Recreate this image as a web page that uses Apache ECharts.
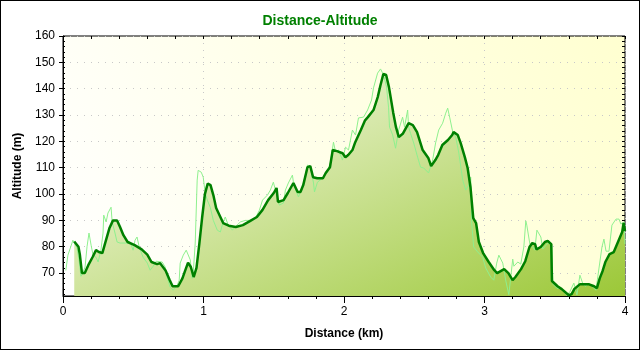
<!DOCTYPE html>
<html>
<head>
<meta charset="utf-8">
<title>Distance-Altitude</title>
<script src="https://cdn.jsdelivr.net/npm/echarts@6.0.0/dist/echarts.min.js"></script>
<style>
  body { margin: 0; background: #fff; }
  #main { position: absolute; left: 0; top: 0; width: 640px; height: 350px; }
  #frame { position: absolute; left: 0; top: 0; width: 640px; height: 350px;
           box-sizing: border-box; border: 1px solid #000; pointer-events: none; }
</style>
</head>
<body>
<div id="main"></div>
<div id="frame"></div>
<script>
// smoothed profile (dark line + filled area)
var smoothDist = [0.08, 0.11, 0.12, 0.135, 0.155, 0.18, 0.21, 0.235, 0.255, 0.28, 0.30, 0.33, 0.356, 0.385, 0.406, 0.43, 0.46, 0.51, 0.56, 0.60,
  0.63, 0.67, 0.69, 0.73, 0.76, 0.78, 0.82, 0.85, 0.87, 0.89, 0.91, 0.93, 0.95, 0.97, 0.99, 1.01, 1.03, 1.05, 1.07, 1.09,
  1.12, 1.14, 1.18, 1.23, 1.28, 1.33, 1.38, 1.42, 1.46, 1.50, 1.52, 1.53, 1.57, 1.60, 1.64, 1.67, 1.69, 1.71, 1.74, 1.76,
  1.78, 1.81, 1.85, 1.87, 1.90, 1.92, 1.95, 1.99, 2.01, 2.03, 2.06, 2.08, 2.12, 2.15, 2.17, 2.21, 2.24, 2.26, 2.28, 2.30,
  2.32, 2.35, 2.37, 2.39, 2.42, 2.46, 2.49, 2.52, 2.56, 2.60, 2.62, 2.65, 2.67, 2.70, 2.74, 2.77, 2.78, 2.81, 2.83, 2.86,
  2.88, 2.90, 2.92, 2.94, 2.96, 2.99, 3.03, 3.07, 3.09, 3.14, 3.17, 3.20, 3.22, 3.26, 3.29, 3.32, 3.34, 3.36, 3.37, 3.40,
  3.43, 3.45, 3.475, 3.48, 3.52, 3.55, 3.60, 3.62, 3.64, 3.68, 3.74, 3.78, 3.80, 3.82, 3.84, 3.86, 3.89, 3.92, 3.95, 3.98,
  3.99, 4.0];
var smoothAlt = [82, 80, 77, 70, 70, 73, 76, 78.7, 78, 77.6, 81.4, 87, 90, 90, 87.5, 84.4, 81.8, 80.6, 79, 77,
  74.2, 73.4, 73.8, 71, 67.3, 65, 65, 68, 71, 74, 72.3, 68.5, 72, 81, 91, 100, 104, 103.4, 99.6, 94.7,
  91.3, 89, 88, 87.5, 88.2, 89.7, 91.3, 94, 97.7, 100.4, 102.3, 97, 97.7, 100.4, 104.2, 100.8, 100.8, 103.4, 110.2, 110.6,
  106.4, 106, 106, 108, 110.2, 116.7, 116.3, 115.5, 114, 114.8, 116.7, 119.7, 124.3, 128, 129.2, 131.9, 136.8, 141.4, 145.6, 145.2,
  140.6, 131, 125.4, 121.6, 123, 126.9, 126.2, 123.5, 116.7, 113.7, 110.6, 112.9, 114.8, 118.6, 120.5, 122.4, 123.5, 122.4, 119.4, 114,
  109.9, 102.7, 90.9, 89, 81.8, 77.6, 74.2, 71.1, 70, 71.5, 70, 67.3, 68.5, 71.5, 74.5, 79.9, 81.4, 81, 79, 79.9,
  81.8, 82.2, 81, 67, 65, 63.9, 61.6, 62, 64, 65.8, 65.8, 65, 64.3, 68, 70.7, 74.2, 77.2, 78, 81.8, 85.6,
  89, 86];

// raw GPS profile (thin light line)
var rawDist = [0.02, 0.035, 0.064, 0.07, 0.10, 0.114, 0.128, 0.14, 0.157, 0.171, 0.185, 0.20, 0.214, 0.235, 0.25, 0.27, 0.285, 0.29, 0.307, 0.32,
  0.342, 0.35, 0.37, 0.385, 0.406, 0.456, 0.477, 0.499, 0.513, 0.527, 0.542, 0.57, 0.60, 0.62, 0.642, 0.663, 0.677, 0.706, 0.727, 0.741,
  0.762, 0.784, 0.813, 0.827, 0.834, 0.856, 0.877, 0.891, 0.906, 0.92, 0.927, 0.941, 0.955, 0.962, 0.984, 0.998, 1.012, 1.027, 1.048, 1.07,
  1.098, 1.12, 1.14, 1.155, 1.176, 1.205, 1.226, 1.262, 1.298, 1.333, 1.369, 1.398, 1.42, 1.455, 1.476, 1.497, 1.511, 1.526, 1.54, 1.569,
  1.583, 1.604, 1.633, 1.64, 1.661, 1.676, 1.704, 1.725, 1.74, 1.761, 1.783, 1.79, 1.811, 1.847, 1.882, 1.904, 1.925, 1.94, 1.961, 1.989,
  2.011, 2.032, 2.06, 2.082, 2.103, 2.139, 2.168, 2.196, 2.21, 2.239, 2.26, 2.282, 2.303, 2.317, 2.324, 2.346, 2.367, 2.389, 2.417, 2.431,
  2.453, 2.46, 2.474, 2.496, 2.524, 2.545, 2.567, 2.602, 2.631, 2.652, 2.674, 2.702, 2.724, 2.738, 2.752, 2.774, 2.795, 2.816, 2.845, 2.866,
  2.888, 2.902, 2.909, 2.923, 2.952, 2.987, 3.009, 3.044, 3.066, 3.087, 3.102, 3.13, 3.152, 3.173, 3.187, 3.201, 3.209, 3.237, 3.258, 3.28,
  3.294, 3.301, 3.323, 3.344, 3.358, 3.373, 3.387, 3.401, 3.415, 3.444, 3.465, 3.479, 3.487, 3.515, 3.551, 3.586, 3.608, 3.636, 3.658, 3.679,
  3.701, 3.722, 3.743, 3.765, 3.793, 3.815, 3.836, 3.85, 3.865, 3.886, 3.907, 3.936, 3.957, 3.971, 3.993, 4.0];
var rawAlt = [71, 76.8, 81.4, 82.5, 79.5, 75, 68.8, 70, 72.3, 80, 85.2, 80.6, 76.8, 76, 74.2, 78.7, 85.2, 92, 89.4, 92.8,
  95, 89.4, 85.2, 81.8, 81.4, 81.4, 81.8, 78.7, 82.5, 83.7, 80, 76, 73.8, 71.1, 72.6, 74.5, 73.8, 74.2, 72.3, 68.5,
  64.7, 63.5, 65.4, 67.3, 73.8, 76.8, 78.7, 78.7, 75, 68, 70, 81.4, 105.3, 109, 108.3, 106.4, 100.4, 97.7, 95, 90,
  86.3, 85.6, 89.4, 91.3, 88.2, 86.3, 87.5, 89.4, 90, 90, 90.8, 93.9, 97.7, 99.6, 101.5, 104.5, 104.2, 98.9, 95.8, 96.6,
  101.5, 104.2, 107.2, 104.5, 100.8, 98.9, 102.7, 107.2, 111, 110.2, 104.2, 100.8, 104.5, 106, 108.3, 112.1, 119.7, 116, 116.7, 112.9,
  117.8, 116.7, 124.3, 122.4, 128.9, 129.2, 131.9, 135.7, 140.3, 145.9, 147.5, 145.2, 140.6, 133, 125.4, 122.5, 117.4, 124.3, 129.2, 125.4,
  131.9, 125.4, 123, 119.4, 114, 110.2, 109.9, 108, 112.9, 119.4, 124.3, 126.9, 130.7, 132.6, 129.2, 123.5, 121.6, 116, 105.3, 101.5,
  103.4, 106.4, 89, 79.9, 78, 76, 71.9, 68.5, 67.3, 73.8, 76.8, 73.8, 67, 61.8, 62, 75.3, 72.6, 74.2, 73.4, 79.9,
  89.8, 88.2, 81, 79.9, 78.7, 86.3, 86.7, 83.7, 79.1, 81, 81.8, 81, 65.8, 64.3, 63.9, 61.5, 63, 66.2, 61.7, 69.2,
  65.8, 65, 66.2, 65, 63.5, 71.9, 79.9, 82.9, 78.3, 78.3, 88.2, 90.5, 90.5, 88.6, 89.4, 81];

var yLabels = [70, 80, 90, 100, 110, 120, 130, 140, 150, 160];
var yMinor = [];
for (var v = 62; v <= 160; v += 2) yMinor.push(v);

function pairs(xs, ys) {
  var out = [];
  for (var i = 0; i < xs.length; i++) out.push([xs[i], ys[i]]);
  return out;
}
var smoothData = pairs(smoothDist, smoothAlt);
var rawData = pairs(rawDist, rawAlt);

var chart = echarts.init(document.getElementById('main'));
var font = 'Liberation Sans, Arial, sans-serif';
var yMin = 61.3, yMax = 160;

var option = {
  animation: false,
  title: {
    text: 'Distance-Altitude',
    left: 'center', top: 9,
    textStyle: { color: '#008000', fontSize: 14, fontWeight: 'bold', fontFamily: font }
  },
  grid: {
    left: 63, top: 36, right: 15, bottom: 54,
    show: true, borderColor: '#000', borderWidth: 1,
    backgroundColor: new echarts.graphic.LinearGradient(0, 1, 1, 0, [
      { offset: 0, color: '#ffffff' },
      { offset: 1, color: '#ffffd0' }
    ])
  },
  xAxis: [{
    type: 'value', min: 0, max: 4, interval: 1,
    name: 'Distance (km)', nameLocation: 'middle', nameGap: 32,
    nameTextStyle: { color: '#000', fontSize: 12, fontWeight: 'bold', fontFamily: font },
    axisLine: { lineStyle: { color: '#000' } },
    axisTick: { length: 7, lineStyle: { color: '#000' } },
    minorTick: { show: true, splitNumber: 5, length: 3, lineStyle: { color: '#000' } },
    axisLabel: { color: '#000', fontSize: 12, fontFamily: font, margin: 10 },
    splitLine: { show: true, lineStyle: { color: '#c8c8c8', type: [1, 6] } }
  }, {
    type: 'value', position: 'top', min: 0, max: 4, interval: 0.2,
    axisLine: { show: false },
    axisTick: { inside: true, length: 3, lineStyle: { color: '#000' } },
    axisLabel: { show: false },
    splitLine: { show: false }
  }],
  yAxis: [{
    type: 'value', min: yMin, max: yMax,
    name: 'Altitude (m)', nameLocation: 'middle', nameGap: 39,
    nameTextStyle: { color: '#000', fontSize: 12, fontWeight: 'bold', fontFamily: font },
    axisLine: { show: true, lineStyle: { color: '#000' } },
    axisTick: { show: true, length: 4, customValues: yLabels, lineStyle: { color: '#000' } },
    axisLabel: { color: '#000', fontSize: 12, fontFamily: font, margin: 8, customValues: yLabels },
    splitLine: { show: true, lineStyle: { color: '#c8c8c8', type: [1, 6] } }
  }, {
    type: 'value', min: yMin, max: yMax, position: 'left',
    axisLine: { show: false },
    axisTick: { show: true, inside: true, length: 2, customValues: yMinor, lineStyle: { color: '#000' } },
    axisLabel: { show: false },
    splitLine: { show: false }
  }, {
    type: 'value', min: yMin, max: yMax, position: 'right',
    axisLine: { show: false },
    axisTick: { show: true, inside: true, length: 3, customValues: yMinor, lineStyle: { color: '#000' } },
    axisLabel: { show: false },
    splitLine: { show: false }
  }],
  series: [{
    name: 'area',
    type: 'line',
    data: smoothData,
    showSymbol: false,
    lineStyle: { width: 0 },
    areaStyle: {
      opacity: 1,
      // pixel-space gradient: pale near the summit, deeper green to the bottom right
      color: new echarts.graphic.LinearGradient(100, 119, 256, 462, [
        { offset: 0, color: '#f0f6dc' },
        { offset: 1, color: '#9cc838' }
      ], true)
    },
    z: 1
  }, {
    name: 'raw',
    type: 'line',
    data: rawData,
    showSymbol: false,
    lineStyle: { color: '#8ef08e', width: 1 },
    z: 2
  }, {
    name: 'smooth',
    type: 'line',
    data: smoothData,
    showSymbol: false,
    lineStyle: { color: '#008000', width: 2.5 },
    z: 3
  }]
};
chart.setOption(option);
</script>
</body>
</html>
